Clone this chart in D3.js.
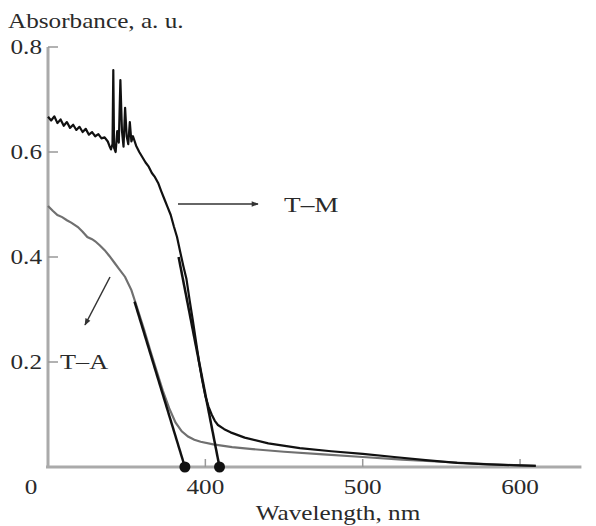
<!DOCTYPE html>
<html>
<head>
<meta charset="utf-8">
<script src="https://cdn.jsdelivr.net/npm/d3@7"></script>
<style>
  body { margin: 0; background: #fff; }
  text { font-family: "Liberation Serif", "DejaVu Serif", serif; fill: #2a2a2a; }
</style>
</head>
<body>
<svg id="chart" width="596" height="526"></svg>
<script>

// T-M spectrum (black)
let tmWave = [300, 302, 304, 306, 308, 310, 312, 314, 316, 318, 320, 322, 324, 326, 328, 330, 332, 334, 336, 338, 339, 340, 341, 341.5, 342, 343, 344, 345, 346, 347, 348, 349, 350, 351, 352, 353, 354, 356, 358, 360, 362, 364, 366, 368, 370, 372, 374, 376, 378, 380, 382, 384, 386, 388, 390, 392, 394, 396, 398, 400, 402, 404, 406, 408, 412, 416, 425, 440, 460, 480, 500, 520, 540, 560, 580, 600, 610];
let tmAbs = [0.667, 0.660, 0.668, 0.655, 0.662, 0.650, 0.657, 0.646, 0.652, 0.642, 0.648, 0.638, 0.644, 0.633, 0.638, 0.630, 0.634, 0.626, 0.628, 0.620, 0.612, 0.605, 0.615, 0.756, 0.608, 0.600, 0.640, 0.618, 0.737, 0.640, 0.610, 0.684, 0.630, 0.615, 0.657, 0.620, 0.630, 0.612, 0.600, 0.590, 0.580, 0.572, 0.560, 0.552, 0.541, 0.525, 0.510, 0.495, 0.480, 0.458, 0.438, 0.410, 0.383, 0.358, 0.318, 0.280, 0.240, 0.200, 0.165, 0.135, 0.115, 0.100, 0.088, 0.080, 0.072, 0.066, 0.056, 0.045, 0.036, 0.030, 0.025, 0.019, 0.013, 0.008, 0.005, 0.003, 0.002];

// T-A spectrum (grey)
let taWave = [300, 303, 306, 309, 312, 315, 319, 322, 325, 328, 330, 333, 336, 339, 342, 345, 349, 353, 357, 361, 365, 369, 373, 377, 381, 385, 389, 393, 397, 405, 417, 430, 450, 475, 500, 525, 550, 575, 600, 610];
let taAbs = [0.497, 0.488, 0.480, 0.476, 0.470, 0.465, 0.457, 0.448, 0.438, 0.434, 0.430, 0.422, 0.413, 0.402, 0.390, 0.378, 0.362, 0.337, 0.300, 0.262, 0.222, 0.183, 0.145, 0.112, 0.085, 0.068, 0.058, 0.052, 0.048, 0.043, 0.038, 0.034, 0.029, 0.024, 0.019, 0.014, 0.010, 0.006, 0.003, 0.002];

// band edge tangents: [start, end] as [wavelength, absorbance]
let tmTangent = [[383, 0.40], [409, 0]];
let taTangent = [[355, 0.315], [387, 0]];

let xTicks = [400, 500, 600];
let yTicks = [0.2, 0.4, 0.6, 0.8];

let svg = d3.select("#chart");

let x = d3.scaleLinear()
  .domain([300, 640])
  .range([48, 583]);

let y = d3.scaleLinear()
  .domain([0, 0.8])
  .range([467, 47]);

let sx = 1.2; // the scanned figure is stretched sideways

// arrow head
svg.append("defs")
  .append("marker")
  .attr("id", "head")
  .attr("viewBox", "0 0 10 10")
  .attr("refX", 9)
  .attr("refY", 5)
  .attr("markerWidth", 9)
  .attr("markerHeight", 7)
  .attr("markerUnits", "userSpaceOnUse")
  .attr("orient", "auto")
  .append("path")
  .attr("d", "M0,1 L10,5 L0,9 Z")
  .style("fill", "#333");

// axes
svg.append("line")
  .attr("x1", x(300)).attr("x2", x(300))
  .attr("y1", y(0)).attr("y2", y(0.8))
  .style("stroke", "#aaa").style("stroke-width", 3);

svg.append("line")
  .attr("x1", x(300) - 2).attr("x2", x(639))
  .attr("y1", y(0)).attr("y2", y(0))
  .style("stroke", "#aaa").style("stroke-width", 3);

// y ticks point inward
svg.selectAll(".ytick")
  .data(yTicks)
  .enter()
  .append("line")
  .attr("class", "ytick")
  .attr("x1", x(300)).attr("x2", x(300) + 10)
  .attr("y1", d => y(d)).attr("y2", d => y(d))
  .style("stroke", "#999").style("stroke-width", 1.5);

svg.selectAll(".ylabel")
  .data(yTicks)
  .enter()
  .append("text")
  .attr("class", "ylabel")
  .attr("transform", d => "translate(42," + (y(d) + 7) + ") scale(" + sx + ",1)")
  .style("text-anchor", "end")
  .style("font-size", "21px")
  .text(d => d.toFixed(1));

svg.selectAll(".xtick")
  .data(xTicks)
  .enter()
  .append("line")
  .attr("class", "xtick")
  .attr("x1", d => x(d)).attr("x2", d => x(d))
  .attr("y1", y(0)).attr("y2", y(0) - 8)
  .style("stroke", "#999").style("stroke-width", 1.5);

svg.selectAll(".xlabel")
  .data(xTicks)
  .enter()
  .append("text")
  .attr("class", "xlabel")
  .attr("transform", d => "translate(" + x(d) + ",494) scale(" + sx + ",1)")
  .style("text-anchor", "middle")
  .style("font-size", "21px")
  .text(d => d);

// origin
svg.append("text")
  .attr("transform", "translate(31,494) scale(" + sx + ",1)")
  .style("text-anchor", "middle")
  .style("font-size", "21px")
  .text("0");

// axis titles
svg.append("text")
  .attr("transform", "translate(8,28) scale(" + sx + ",1)")
  .style("font-size", "21px")
  .text("Absorbance, a. u.");

svg.append("text")
  .attr("transform", "translate(338,520) scale(" + sx + ",1)")
  .style("text-anchor", "middle")
  .style("font-size", "21px")
  .text("Wavelength, nm");

// curves
let line = d3.line()
  .x(d => x(d[0]))
  .y(d => y(d[1]));

svg.append("path")
  .datum(taWave.map((w, i) => [w, taAbs[i]]))
  .attr("d", line)
  .style("fill", "none")
  .style("stroke", "#707070")
  .style("stroke-width", 2.2);

svg.append("path")
  .datum(tmWave.map((w, i) => [w, tmAbs[i]]))
  .attr("d", line)
  .style("fill", "none")
  .style("stroke", "#111")
  .style("stroke-width", 2.2)
  .style("stroke-linejoin", "round");

// tangents with end dots
[tmTangent, taTangent].forEach(t => {
  svg.append("path")
    .datum(t)
    .attr("d", line)
    .style("stroke", "#111")
    .style("stroke-width", 2.5);

  svg.append("circle")
    .attr("cx", x(t[1][0]))
    .attr("cy", y(t[1][1]))
    .attr("r", 5.5)
    .style("fill", "#111");
});

// labels with arrows
svg.append("line")
  .attr("x1", 178).attr("y1", 204)
  .attr("x2", 258).attr("y2", 204)
  .style("stroke", "#333").style("stroke-width", 1.5)
  .attr("marker-end", "url(#head)");

svg.append("text")
  .attr("transform", "translate(284,212) scale(1.3,1)")
  .style("font-size", "21px")
  .text("T\u2013M");

svg.append("line")
  .attr("x1", 110).attr("y1", 277)
  .attr("x2", 85).attr("y2", 325)
  .style("stroke", "#333").style("stroke-width", 1.5)
  .attr("marker-end", "url(#head)");

svg.append("text")
  .attr("transform", "translate(60,369) scale(1.25,1)")
  .style("font-size", "21px")
  .text("T\u2013A");

</script>
</body>
</html>
